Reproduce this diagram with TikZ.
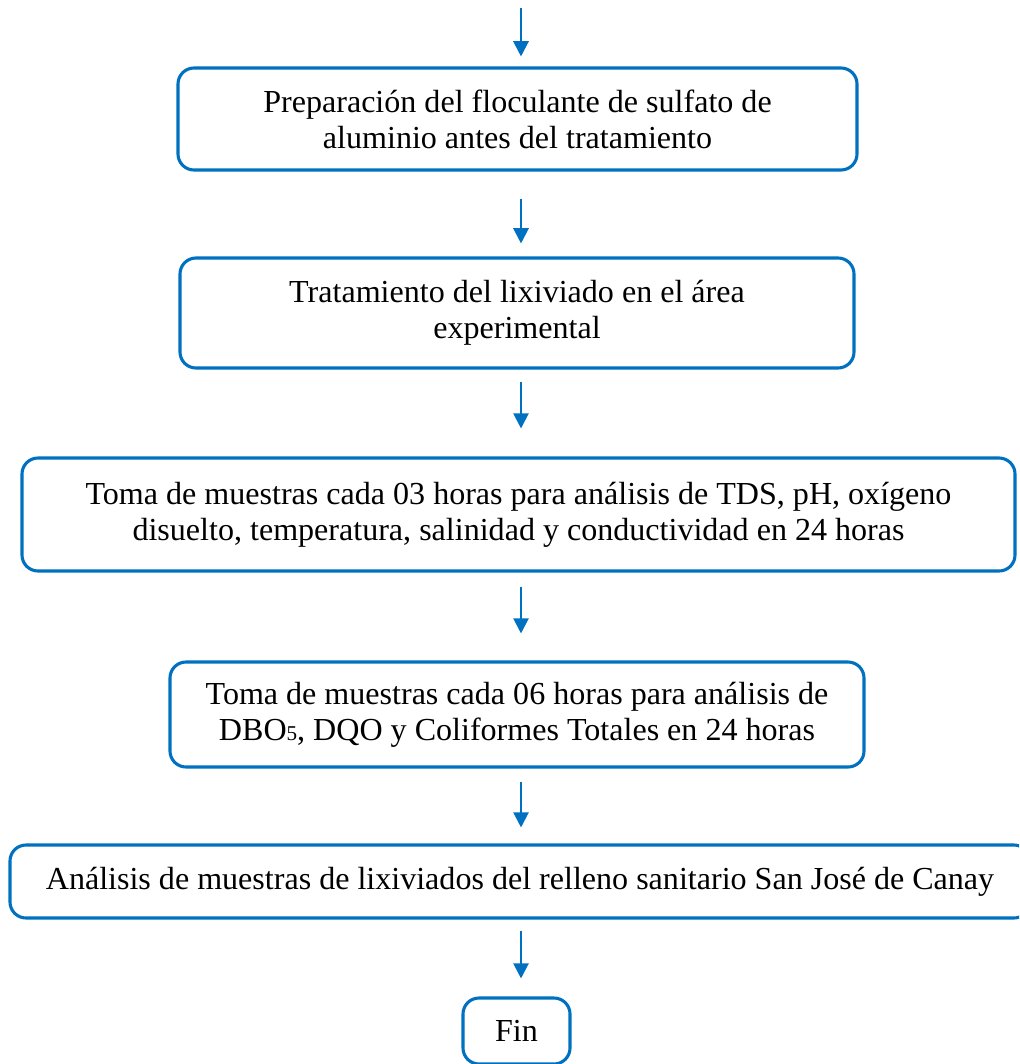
\documentclass[tikz,border=0pt]{standalone}
\usepackage{fontspec}
\setmainfont{Liberation Serif}
\usetikzlibrary{arrows.meta}

\definecolor{azul}{RGB}{0,112,192}
\tikzset{
	caja/.style={draw=azul, line width=2.2pt, rounded corners=0.4cm, align=center,
		font=\fontsize{22.8}{25.5}\selectfont, inner sep=0pt},
	flecha/.style={azul, line width=1.5pt, -{Triangle[length=0.38cm,width=0.38cm]}}
}

\begin{document}
\begin{tikzpicture}[x=0.025cm,y=-0.025cm]
	\useasboundingbox (0,0) rectangle (1019,1064);
	\clip (0,0) rectangle (1019,1064);
	\coordinate (inicio) at (521,8);
	\node[caja, minimum width=679*0.025cm, minimum height=102*0.025cm] (prep) at (517.5,119)
		{Preparación del floculante de sulfato de\\ aluminio antes del tratamiento};
	\node[caja, minimum width=674*0.025cm, minimum height=110*0.025cm] (trat) at (517,313)
		{Tratamiento del lixiviado en el área\\ experimental};
	\node[caja, minimum width=993*0.025cm, minimum height=113*0.025cm] (toma3) at (518.5,514.5)
		{Toma de muestras cada 03 horas para análisis de TDS, pH, oxígeno\\ disuelto, temperatura, salinidad y conductividad en 24 horas};
	\node[caja, minimum width=694*0.025cm, minimum height=105*0.025cm] (toma6) at (517,714.5)
		{Toma de muestras cada 06 horas para análisis de\\ DBO{\fontsize{15}{15}\selectfont 5}, DQO y Coliformes Totales en 24 horas};
	\node[caja, minimum width=1020*0.025cm, minimum height=73*0.025cm] (anal) at (520,881.5)
		{Análisis de muestras de lixiviados del relleno sanitario San José de Canay};
	\node[caja, minimum width=107*0.025cm, minimum height=66*0.025cm] (fin) at (516.5,1031)
		{Fin};

	\draw[flecha, shorten >=10*0.025cm] (inicio) -- (inicio |- prep.north);
	\draw[flecha, shorten <=27*0.025cm, shorten >=13*0.025cm] (prep.south -| inicio) -- (trat.north -| inicio);
	\draw[flecha, shorten <=12*0.025cm, shorten >=28*0.025cm] (trat.south -| inicio) -- (toma3.north -| inicio);
	\draw[flecha, shorten <=14*0.025cm, shorten >=27*0.025cm] (toma3.south -| inicio) -- (toma6.north -| inicio);
	\draw[flecha, shorten <=13*0.025cm, shorten >=16*0.025cm] (toma6.south -| inicio) -- (anal.north -| inicio);
	\draw[flecha, shorten <=11*0.025cm, shorten >=18*0.025cm] (anal.south -| inicio) -- (fin.north -| inicio);
\end{tikzpicture}
\end{document}
